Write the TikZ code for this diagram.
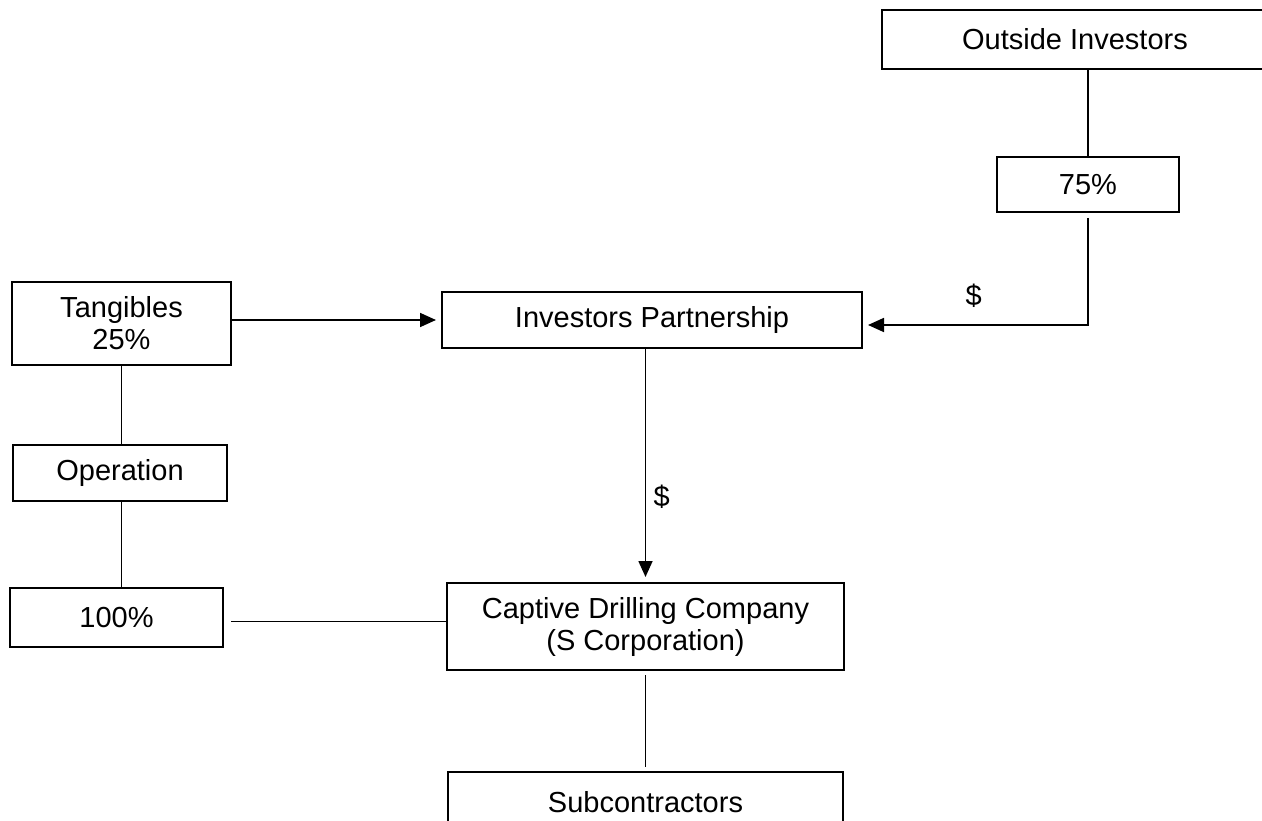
\documentclass[tikz,border=0pt]{standalone}
\usepackage{fontspec}
\setmainfont{Liberation Sans}
\usetikzlibrary{arrows.meta}
\begin{document}
\begin{tikzpicture}[x=1pt,y=-1pt,
  txt/.style={font=\fontsize{29}{32}\selectfont},
  box/.style={txt,draw,line width=2pt,inner sep=0pt,align=center},
  conn/.style={line width=1.7pt},
  arr/.style={conn,-{Triangle[length=16pt,width=14pt]}}]
\useasboundingbox (0,0) rectangle (1262,821);
\node[box,minimum width=386pt,minimum height=59pt] (OI) at (1075,39.5) {Outside Investors};
\node[box,minimum width=182pt,minimum height=55pt] (P75) at (1088,184.5) {75\%};
\node[box,minimum width=219pt,minimum height=83pt] (Tang) at (121.5,323.5) {Tangibles\\25\%};
\node[box,minimum width=420pt,minimum height=56pt] (IP) at (652,320) {Investors Partnership};
\node[box,minimum width=214pt,minimum height=56pt] (Op) at (120,473) {Operation};
\node[box,minimum width=213pt,minimum height=59pt] (P100) at (116.5,617.5) {100\%};
\node[box,minimum width=397pt,minimum height=87pt] (CDC) at (645.5,626.5) {Captive Drilling Company\\(S Corporation)};
\node[box,minimum width=395pt,minimum height=60pt] (Sub) at (645.5,802) {Subcontractors};
% connectors
\draw[conn] (P75.north) -- (P75.north |- OI.south);
\draw[arr] ([yshift=-5pt]P75.south) |- ([xshift=5pt,yshift=-5pt]IP.east)
  node[txt,pos=0.76,anchor=south,yshift=13pt] (d1) {\$};
\draw[arr] (Tang.east |- IP.west) -- ([xshift=-5pt]IP.west);
\draw[conn] (Tang.south) -- (Tang.south |- Op.north);
\draw[conn] (Op.south -| Tang.south) -- (Tang.south |- P100.north);
\draw[conn] ([xshift=7pt,yshift=-4pt]P100.east) -- ([yshift=-4pt]P100.east -| CDC.west);
\draw[arr] (IP.south -| CDC.north) -- ([yshift=5pt]CDC.north)
  node[txt,pos=0.65,anchor=west,xshift=4pt] (d2) {\$};
\draw[conn] ([yshift=-4pt]CDC.south) -- ([yshift=4pt]Sub.north);
\end{tikzpicture}
\end{document}
